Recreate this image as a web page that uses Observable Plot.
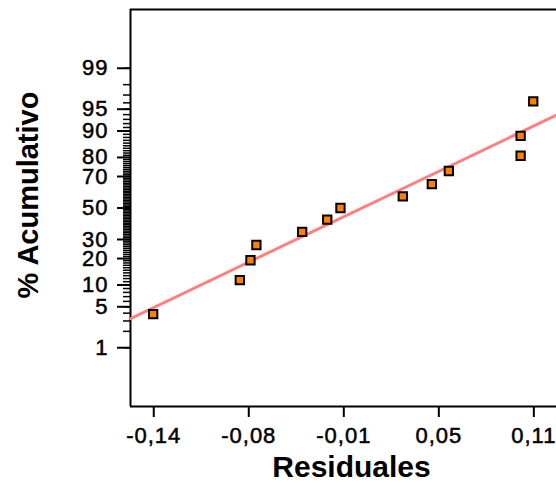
<!DOCTYPE html>
<html>
<head>
<meta charset="utf-8">
<script src="https://cdn.jsdelivr.net/npm/d3@7"></script>
<script src="https://cdn.jsdelivr.net/npm/@observablehq/plot@0.6"></script>
<style>
  html, body { margin: 0; padding: 0; background: #fff; overflow: hidden; }
  #chart svg { display: block; }
  #chart g[aria-label="y-axis tick label"] text,
  #chart g[aria-label="x-axis tick label"] text { letter-spacing: 1px; stroke: #000; stroke-width: 0.5px; }
</style>
</head>
<body>
<div id="chart"></div>
<script>
// Residuals (x) and cumulative percentage (y)
const residuales = [-0.1404, -0.0834, -0.0764, -0.0725, -0.0424, -0.0259, -0.0172, 0.0238, 0.0429, 0.0541, 0.1013, 0.1013, 0.1096];
const acumulado  = [3.85, 11.5, 19.2, 26.9, 34.6, 42.3, 50.0, 57.7, 65.4, 73.1, 80.8, 88.5, 96.2];

// Fitted normal line (mean, standard deviation)
const fitMean = -0.003;
const fitSd = 0.0827;

// Axis ticks
const xTicks = [-0.14, -0.0775, -0.015, 0.0475, 0.11];
const xTickLabels = ["-0,14", "-0,08", "-0,01", "0,05", "0,11"];
const yTickLabels = [1, 5, 10, 20, 30, 50, 70, 80, 90, 95, 99];
const yMinorTicks = d3.range(1, 100);

const xDomain = [-0.1553, 0.1249];
const zDomain = [-3.305, 3.305];

// inverse standard normal CDF (probability-paper transform)
function probit(p) {
  const a = [-3.969683028665376e+01, 2.209460984245205e+02, -2.759285104469687e+02, 1.383577518672690e+02, -3.066479806614716e+01, 2.506628277459239e+00];
  const b = [-5.447609879822406e+01, 1.615858368580409e+02, -1.556989798598866e+02, 6.680131188771972e+01, -1.328068155288572e+01];
  const c = [-7.784894002430293e-03, -3.223964580411365e-01, -2.400758277161838e+00, -2.549732539343734e+00, 4.374664141464968e+00, 2.938163982698783e+00];
  const d = [7.784695709041462e-03, 3.224671290700398e-01, 2.445134137142996e+00, 3.754408661907416e+00];
  const plow = 0.02425, phigh = 1 - plow;
  let q, r;
  if (p < plow) {
    q = Math.sqrt(-2 * Math.log(p));
    return (((((c[0]*q+c[1])*q+c[2])*q+c[3])*q+c[4])*q+c[5]) / ((((d[0]*q+d[1])*q+d[2])*q+d[3])*q+1);
  }
  if (p > phigh) {
    q = Math.sqrt(-2 * Math.log(1 - p));
    return -(((((c[0]*q+c[1])*q+c[2])*q+c[3])*q+c[4])*q+c[5]) / ((((d[0]*q+d[1])*q+d[2])*q+d[3])*q+1);
  }
  q = p - 0.5; r = q * q;
  return (((((a[0]*r+a[1])*r+a[2])*r+a[3])*r+a[4])*r+a[5])*q / (((((b[0]*r+b[1])*r+b[2])*r+b[3])*r+b[4])*r+1);
}

const points = residuales.map((x, i) => ({x, z: probit(acumulado[i] / 100)}));
const fitLine = xDomain.map(x => ({x, z: (x - fitMean) / fitSd}));

const yMajorZ = yTickLabels.map(v => probit(v / 100));
const yLabelMap = new Map(yMajorZ.map((z, i) => [z, String(yTickLabels[i])]));
const xLabelMap = new Map(xTicks.map((v, i) => [v, xTickLabels[i]]));

const chart = Plot.plot({
  width: 556,
  height: 483,
  marginLeft: 130,
  marginRight: 0,
  marginTop: 9,
  marginBottom: 77,
  style: {fontFamily: "'Liberation Sans', Arial, sans-serif", fontSize: "22px", color: "#000", background: "#fff", overflow: "visible"},
  x: {type: "linear", domain: xDomain},
  y: {type: "linear", domain: zDomain},
  marks: [
    Plot.axisY({ticks: yMinorTicks.map(v => probit(v / 100)), tickSize: 7, strokeWidth: 1.5, strokeOpacity: 1, tickFormat: () => "", label: null}),
    Plot.axisY({ticks: yMajorZ, tickSize: 13, tickPadding: 9, strokeWidth: 2, fontSize: 22, tickFormat: z => yLabelMap.get(z), label: null}),
    Plot.axisX({ticks: xTicks, tickSize: 11, tickPadding: 10, strokeWidth: 2, fontSize: 22, tickFormat: v => xLabelMap.get(v), label: null}),
    Plot.ruleX([xDomain[0]], {stroke: "#000", strokeWidth: 2}),
    Plot.ruleY([zDomain[0], zDomain[1]], {stroke: "#000", strokeWidth: 2}),
    Plot.line(fitLine, {x: "x", y: "z", stroke: "#ff8080", strokeWidth: 3, clip: true}),
    Plot.dot(points, {x: "x", y: "z", symbol: "square", r: 4.7, fill: "#ff8000", stroke: "#000", strokeWidth: 2}),
    Plot.text(["Residuales"], {frameAnchor: "bottom", dx: 8, dy: 61, fontSize: 30, fontWeight: "bold", lineAnchor: "middle", textAnchor: "middle"}),
    Plot.text(["% Acumulativo"], {frameAnchor: "left", rotate: -90, dx: -102, dy: -13, fontSize: 29, fontWeight: "bold", lineAnchor: "middle", textAnchor: "middle"})
  ]
});
document.getElementById("chart").appendChild(chart);
</script>
</body>
</html>
